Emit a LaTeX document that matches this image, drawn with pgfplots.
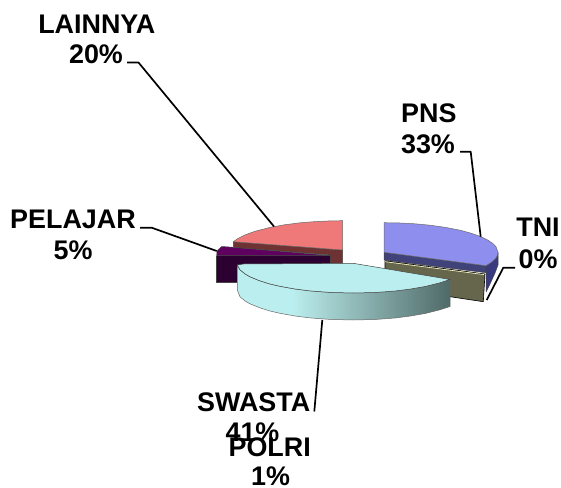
\documentclass[border=0pt]{standalone}
\usepackage{pgfplots}
\pgfplotsset{compat=1.18}
\usepackage{fontspec}
\setmainfont{Liberation Sans}
\definecolor{cPink}{HTML}{EF7878}
\definecolor{cBrown}{HTML}{6E3232}
\definecolor{cPurpTop}{HTML}{5F0060}
\definecolor{cPurpFr}{HTML}{2C0030}
\definecolor{cBlue}{HTML}{8E8EEE}
\definecolor{cBlueIn}{HTML}{40427A}
\definecolor{cBlueOut}{HTML}{3A3A80}
\definecolor{cOlive}{HTML}{66664C}
\definecolor{cCyan}{HTML}{BBEEEE}
\definecolor{cCyanDk}{HTML}{4F6A68}
\definecolor{cCyanMid}{HTML}{92BCBA}
\definecolor{cEdge}{HTML}{444444}
\pgfdeclarehorizontalshading{swastaside}{100bp}{color(0bp)=(cCyan); color(25bp)=(cCyan); color(38bp)=(cCyan); color(52bp)=(cCyanMid); color(75bp)=(cCyanDk); color(100bp)=(cCyanDk)}
\newcommand{\lab}[3]{\node[anchor=base,inner sep=0pt,font=\fontsize{27}{27}\selectfont\bfseries] at (axis cs:#1,#2) {#3};}
\begin{document}
\begin{tikzpicture}
\path[use as bounding box] (0,0) rectangle (561bp,488bp);
\begin{axis}[at={(0,0)},anchor=south west,width=561bp,height=488bp,scale only axis,hide axis,
  xmin=0,xmax=561,ymin=0,ymax=488,y dir=reverse,clip=false,
  every axis plot/.append style={no markers,line join=round}]
% PELAJAR
\addplot[fill=cPurpFr,draw=cEdge,line width=0.5pt] coordinates {(216.7,255.5)(330.7,255.5)(330.7,282)(216.7,282)(216.7,255.5)};
\addplot[fill=cPurpTop,draw=cEdge,line width=0.5pt] coordinates {(216.7,255.5)(217,251)(221.7,246.5)(233.3,247.3)(330.7,255.5)(216.7,255.5)};
% LAINNYA
\addplot[fill=cBrown,draw=cEdge,line width=0.5pt] coordinates {(233.3,241.7)(342.7,250)(342.7,263.5)(330.7,263.5)(330.7,255)(233.3,247.3)(233.3,241.7)};
\addplot[fill=cPink,draw=cEdge!80,line width=0.5pt] coordinates {(342.7,250)(342.7,220.7)(330,220.9)(315,221.6)(300,222.8)(285,224.7)(270,227.4)(255,231.3)(245,234.9)(238,238.4)(233.3,241.7)(342.7,250)};
% TNI / POLRI
\addplot[fill=cOlive,draw=black,line width=0.6pt] coordinates {(385,260.7)(485,274)(483.3,301.7)(450,296.7)(385,268.3)(385,260.7)};
\addplot[draw=white!80!yellow,line width=0.6pt] coordinates {(385,261.7)(484,274.6)};
% PNS
\addplot[fill=cBlueOut,draw=cEdge,line width=0.5pt] coordinates {(486,265.7)(491,262.5)(495,259)(497,256.2)(498,252.3)(498,265)(495,273)(490,284)(486,292)(486,265.7)};
\addplot[fill=cBlueIn,draw=cEdge,line width=0.5pt] coordinates {(384,252.3)(486,265.7)(486,272.7)(384,260)(384,252.3)};
\addplot[fill=cBlue,draw=cEdge!80,line width=0.5pt] coordinates {(384,252.3)(384,222.7)(400,223)(415,223.8)(430,225.2)(445,227.3)(460,230.2)(470,232.9)(480,236.3)(488,240.2)(493,243.6)(496,246.7)(498,252.3)(497,256.2)(495,259)(491,262.5)(486,265.7)(384,252.3)};
% SWASTA
\addplot[shade,shading=swastaside,draw=cEdge!80,line width=0.5pt] coordinates {(237.3,265)(240,269.8)(245,273.9)(250,276.8)(260,280.9)(270,284)(280,286.3)(295,289)(310,290.9)(330,292.4)(353,293)(375,292.5)(395,291)(410,289.1)(425,286.5)(440,282.8)(450,279.5)(450,306.5)(440,309.8)(425,313.5)(410,316.1)(395,318)(375,319.5)(353,320)(330,319.4)(310,317.9)(295,316)(280,313.3)(270,311)(260,307.9)(250,303.8)(245,300.9)(240,296.8)(237.3,290)(237.3,265)};
\addplot[fill=cCyan,draw=cEdge,line width=0.5pt] coordinates {(237.3,265)(243.3,264)(353.3,263.3)(450,279.5)(440,282.8)(425,286.5)(410,289.1)(395,291)(375,292.5)(353,293)(330,292.4)(310,290.9)(295,289)(280,286.3)(270,284)(260,280.9)(250,276.8)(245,273.9)(240,269.8)(237.3,265)};
% leader lines
\addplot[black,line width=1.7pt] coordinates {(127,62.5)(138.5,62.5)(274,226.5)};
\addplot[black,line width=1.7pt] coordinates {(460,151.7)(470.7,151.7)(480.7,236.7)};
\addplot[black,line width=1.7pt] coordinates {(515,267.7)(503.3,267.7)(486.7,300)};
\addplot[black,line width=1.7pt] coordinates {(140,227.7)(151.7,227.7)(216.7,251)};
\addplot[black,line width=1.7pt] coordinates {(314.3,411.5)(322.3,320)};
% labels
\lab{96.8}{33.3}{LAINNYA}
\lab{96}{63.3}{20\%}
\lab{428.8}{122.3}{PNS}
\lab{428}{153.3}{33\%}
\lab{538}{236.7}{TNI}
\lab{538}{268.3}{0\%}
\lab{73}{228.3}{PELAJAR}
\lab{73}{259.3}{5\%}
\lab{253.7}{411.7}{SWASTA}
\lab{252.5}{441.7}{41\%}
\lab{269.7}{456}{POLRI}
\lab{270.5}{485}{1\%}
\end{axis}
\end{tikzpicture}
\end{document}
